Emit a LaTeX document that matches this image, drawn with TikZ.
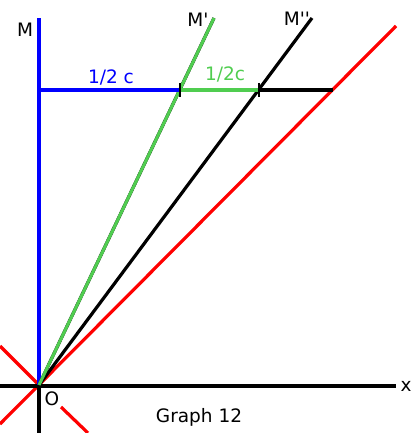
\documentclass[tikz,border=0pt]{standalone}
\usepackage{fontspec}
\setmainfont{DejaVu Sans}
\usepackage{tikz}
\usetikzlibrary{calc}
\definecolor{lgreen}{RGB}{80,205,80}

\begin{document}
\begin{tikzpicture}[
    x=1pt, y=-1pt,
    axis/.style={draw=black, line width=3.3pt},
    ray/.style={line width=3.2pt},
    lbl/.style={font=\fontsize{18.5}{20}\selectfont, inner sep=0pt},
    tick/.style={draw=black, line width=1.6pt}
]
\useasboundingbox (0,0) rectangle (412,433);
% points
\coordinate (O) at (39,385);
\coordinate (Mtop) at (39,18);
\coordinate (Obot) at (39,433);
\coordinate (xl) at (0,386);
\coordinate (xr) at (396,386);
\coordinate (Mp) at (214,18);
\coordinate (Mpp) at (312,18);
\coordinate (Rne) at (396,26);
\coordinate (Rsw) at (0,424);
\coordinate (Rnw) at (0,346);
\coordinate (Rse1) at (61,407);
\coordinate (Rse2) at (88,433);
\coordinate (A) at (39,90);
\coordinate (B) at (180,90);
\coordinate (C) at (259,90);
\coordinate (D) at (333,90);
% light cone
\draw[ray, red] (Rsw) -- (Rne);
\draw[ray, red] (Rnw) -- (O);
\draw[ray, red] (Rse1) -- (Rse2);
% axes
\draw[axis] (xl) -- (xr);
\draw[axis] (O) -- (Obot);
\draw[axis, draw=blue] (O) -- (Mtop);
% world lines
\draw[ray, black] (O) -- (Mpp);
\draw[ray, black] (O) -- (Mp);
\draw[ray, lgreen, line width=3.1pt] (O) -- (Mp);
% simultaneity line
\draw[ray, blue] (A) -- (B);
\draw[ray, black] (B) -- (D);
\draw[ray, lgreen, line width=3.1pt] (B) -- (C);
\draw[tick] ($(B)+(0,-7)$) -- ($(B)+(0,7)$);
\draw[tick] ($(C)+(0,-7)$) -- ($(C)+(0,7)$);
% labels
\node[lbl] (lM) at (25,30) {M};
\node[lbl] (lMp) at (198,20) {M\textquotesingle};
\node[lbl] (lMpp) at (297,19) {M\textquotesingle\textquotesingle};
\node[lbl, text=blue] (lhalf) at (111,77) {1/2 c};
\node[lbl, text=lgreen] (lhalfc) at (225,74) {1/2c};
\node[lbl] (lO) at (52,399) {O};
\node[lbl] (lx) at (406,386) {x};
\node[lbl] (lgraph) at (199,417) {Graph 12};
\end{tikzpicture}
\end{document}
